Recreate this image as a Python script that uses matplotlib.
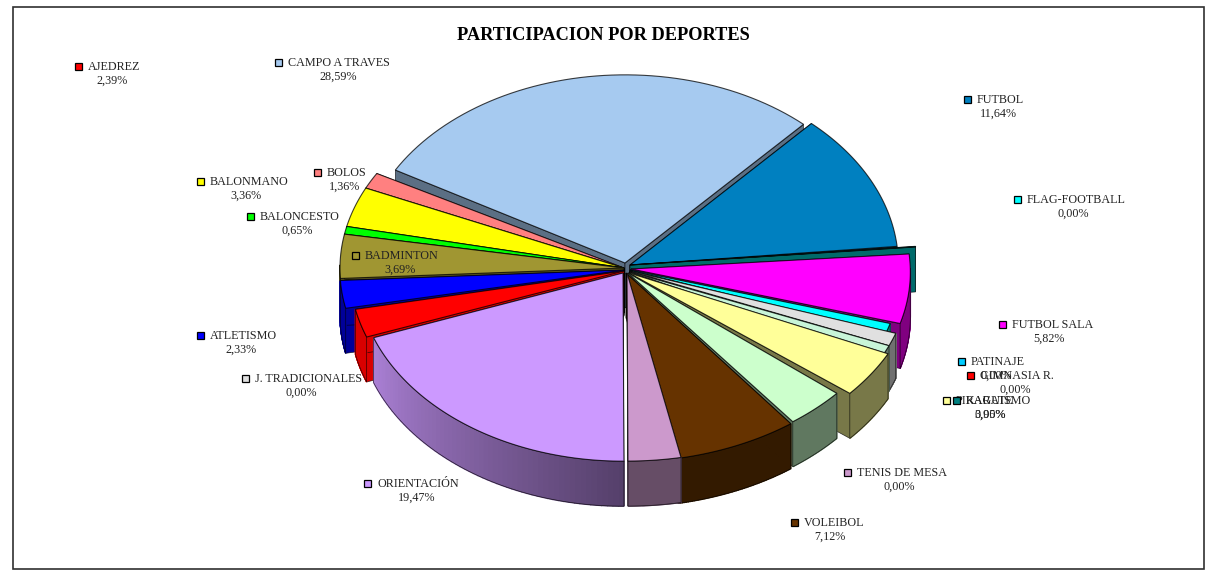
import numpy as np
import matplotlib
matplotlib.use("Agg")
import matplotlib.pyplot as plt
from matplotlib.patches import Polygon, Rectangle

# slices clockwise, as drawn on the pie (%)
slice_names = ["CAMPO A TRAVES", "FUTBOL", "KARATE", "FUTBOL SALA", "FLAG-FOOTBALL", "J. TRADICIONALES",
               "PATINAJE", "PIRAGUISMO", "GIMNASIA R.", "VOLEIBOL", "TENIS DE MESA", "ORIENTACION",
               "AJEDREZ", "ATLETISMO", "BADMINTON", "BALONCESTO", "BALONMANO", "BOLOS"]
slice_shares = [28.59, 11.64, 0.05, 5.82, 0.85, 1.1, 1.1, 3.95, 3.45, 7.12, 3.05, 19.47,
                2.39, 2.33, 3.69, 0.65, 3.36, 1.36]
slice_colors = ["#A6CAF0", "#0080C0", "#006A6A", "#FF00FF", "#00FFFF", "#E0E0E0",
                "#C8F5D8", "#FFFF99", "#CCFFCC", "#663300", "#CC99CC", "#CC99FF",
                "#FF0000", "#0000FF", "#A09632", "#00FF00", "#FFFF00", "#FF8080"]

# text labels as printed next to the chart
label_names = ["AJEDREZ", "CAMPO A TRAVES", "FUTBOL", "FLAG-FOOTBALL", "BOLOS", "BALONMANO", "BALONCESTO",
               "BADMINTON", "ATLETISMO", "J. TRADICIONALES", "ORIENTACIÓN", "VOLEIBOL", "TENIS DE MESA",
               "FUTBOL SALA", "PATINAJE", "GIMNASIA R.", "PIRAGUISMO", "KARATE"]
label_pcts = ["2,39%", "28,59%", "11,64%", "0,00%", "1,36%", "3,36%", "0,65%", "3,69%", "2,33%", "0,00%",
              "19,47%", "7,12%", "0,00%", "5,82%", "0,00%", "0,00%", "3,95%", "0,00%"]
label_colors = ["#FF0000", "#A6CAF0", "#0080C0", "#00FFFF", "#FF8080", "#FFFF00", "#00FF00", "#A09632",
                "#0000FF", "#E0E0E0", "#CC99FF", "#663300", "#CC99CC", "#FF00FF", "#00CCFF", "#FF0000",
                "#FFFF99", "#008080"]

# layout, pixels of the picture
CX, CY = 624, 268
RX, RY = 284, 192
DEPTH = 45
START = -60.4

offset_x = [1, 6, 6, 8, -2, 8, 8, 15, 2, 0, 3, -1, 0, 0, 0, 0, 0, 0]
offset_y = [-5, -3, -3, 4, 4, 4, 4, 0, 0, 2, 3, 5, 3, 2, 0, 0, 0, 0]
apex_x = [1, 6, 6, 7, 6, 6, 6, 5, 4, 2, 3, -1, 0, 0, 0, 0, 0, 0]
apex_y = [-5, -3, -3, 1, 2, 3, 4, 5, 5, 5, 5, 5, 3, 2, 0, 0, 0, 0]
scale_x = [0.93, 0.945, 1.01, 0.98, 0.98, 0.98, 0.98, 0.98, 0.98, 0.98, 0.98, 0.935, 0.965, 1.0, 1.0, 1.0, 1.0, 1.0]
scale_y = [0.98, 1.0, 1.0, 1.0, 1.0, 1.0, 1.0, 1.0, 1.0, 1.0, 0.99, 0.98, 1.0, 1.0, 1.0, 1.0, 1.0, 1.0]
wall_shade = [0.55, 0.55, 1.0, 0.5, 0.5, 0.5, 0.47, 0.47, 0.47, 0.5, 0.5, 0.55, 0.85, 0.6, 0.55, 0.55, 0.55, 0.55]
label_key_x = [78, 278, 967, 1017, 317, 200, 250, 355, 200, 245, 367, 794, 847, 1002, 961, 970, 946, 956]
label_y = [66, 62, 99, 199, 172, 181, 216, 255, 335, 378, 483, 522, 472, 324, 361, 375, 400, 400]
pct_x = [112, 338, 998, 1073, 345, 246, 297, 400, 241, 301, 417, 830, 899, 1049, 996, 1015, 990, 990]


def shade(color, k):
    r, g, b = matplotlib.colors.to_rgb(color)
    return (min(r * k, 1), min(g * k, 1), min(b * k, 1))


def rim(t, i):
    a = np.radians(t)
    x = CX + offset_x[i] + RX * scale_x[i] * np.sin(a)
    y = CY + offset_y[i] - RY * scale_y[i] * np.cos(a)
    return np.column_stack([x, y])


fig = plt.figure(figsize=(12.19, 5.73), dpi=100)
ax = fig.add_axes([0, 0, 1, 1])
ax.set_xlim(0, 1219)
ax.set_ylim(573, 0)
ax.axis("off")

ax.add_patch(Rectangle((13, 7), 1191, 562, fill=False, edgecolor="#303030", linewidth=1.2))

edges = START + np.cumsum([0] + slice_shares) * 3.6
mids = (edges[:-1] + edges[1:]) / 2
EDGE = (0, 0, 0, 0.75)

# back slices first, the front ones paint over them
for z, i in enumerate(np.argsort(-np.cos(np.radians(mids)))):
    color = slice_colors[i]
    t = np.linspace(edges[i], edges[i + 1], 60)
    arc = rim(t, i)
    apex = np.array([[CX + apex_x[i], CY + apex_y[i]]])
    down = np.array([0, DEPTH])
    k_wall = wall_shade[i]

    # radial walls
    for end in (arc[0], arc[-1]):
        quad = np.array([apex[0], end, end + down, apex[0] + down])
        ax.add_patch(Polygon(quad, facecolor=shade(color, k_wall), edgecolor=EDGE, linewidth=0.5, zorder=z * 3 + 1))

    # outer wall, only the part that faces us
    facing = np.cos(np.radians(t)) < 0.02
    if facing.sum() > 1:
        front = arc[facing]
        tf = t[facing]
        for j in range(len(front) - 1):
            k = k_wall
            if slice_names[i] == "ORIENTACION":
                k = 0.42 + 0.42 * (tf[j] - 180) / 70
            quad = np.array([front[j], front[j + 1], front[j + 1] + down, front[j] + down])
            ax.add_patch(Polygon(quad, facecolor=shade(color, k), edgecolor=shade(color, k), linewidth=1.0, zorder=z * 3 + 2))
        ax.add_patch(Polygon(np.vstack([front, front[::-1] + down]), fill=False, edgecolor=EDGE, linewidth=0.5, zorder=z * 3 + 2))

    # top face
    ax.add_patch(Polygon(np.vstack([apex, arc]), facecolor=color, edgecolor=EDGE, linewidth=0.8, zorder=z * 3 + 3))

TXT = dict(family="Liberation Serif", color="#222222", zorder=200)
ax.text(603, 35, "PARTICIPACION POR DEPORTES", fontsize=13.2, fontweight="bold", ha="center", va="center",
        family="Liberation Serif", color="black", zorder=200)

for i, name in enumerate(label_names):
    ax.add_patch(Rectangle((label_key_x[i] - 3, label_y[i] - 3), 6.5, 6.5, facecolor=label_colors[i],
                           edgecolor="black", linewidth=0.9, zorder=200))
    ax.text(label_key_x[i] + 10, label_y[i] + 1, name, fontsize=8.7, ha="left", va="center", **TXT)
    ax.text(pct_x[i], label_y[i] + 15, label_pcts[i], fontsize=8.7, ha="center", va="center", **TXT)

fig.savefig("out.png", dpi=100)
